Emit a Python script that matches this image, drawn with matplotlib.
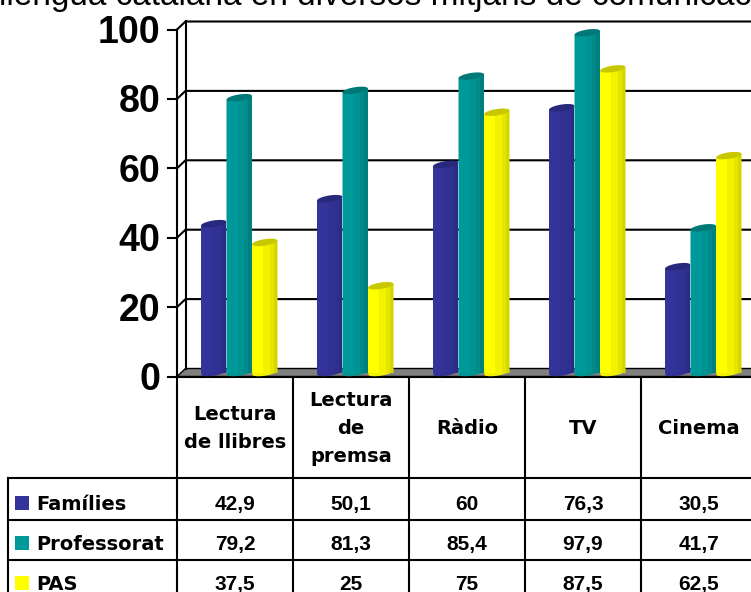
import numpy as np
import matplotlib
matplotlib.use('Agg')
import matplotlib.pyplot as plt
import matplotlib.transforms as mtransforms
from matplotlib.patches import Rectangle, Polygon

# ---------------- data ----------------
categories = ['Lectura\nde llibres', 'Lectura\nde\npremsa', 'Ràdio', 'TV', 'Cinema']
series_names = ['Famílies', 'Professorat', 'PAS']
families_vals = [42.9, 50.1, 60, 76.3, 30.5]
professorat_vals = [79.2, 81.3, 85.4, 97.9, 41.7]
pas_vals = [37.5, 25, 75, 87.5, 62.5]
y_ticks = [0, 20, 40, 60, 80, 100]
title_text = 'llengua catalana en diversos mitjans de comunicació'

series_values = [families_vals, professorat_vals, pas_vals]

# ---------------- styles ----------------
shades = [
    dict(strips=['#333399', '#313194', '#2F2F8D', '#2A2A82'], cap='#28287C'),
    dict(strips=['#009999', '#009393', '#008A8A', '#007F7F'], cap='#007878'),
    dict(strips=['#FFFF00', '#F2F200', '#E5E500', '#D6D600'], cap='#C8C800'),
]
legend_colors = ['#333399', '#009999', '#FFFF00']

plt.rcParams['font.family'] = ['Liberation Sans', 'DejaVu Sans']
WORD_FONT = ['DejaVu Sans']

W, H = 751, 592
DPI = 100
fig = plt.figure(figsize=(W / DPI, H / DPI), dpi=DPI)
fig.patch.set_facecolor('white')


def fig_rect(left, top, right, bottom):
    return [left / W, 1 - bottom / H, (right - left) / W, (bottom - top) / H]


# overlay axes in pixel coordinates (table, title)
tax = fig.add_axes([0, 0, 1, 1])
tax.set_xlim(0, W)
tax.set_ylim(H, 0)
tax.axis('off')

# chart axes (front plane)
COLW = 116
AX_L, AX_T, AX_B = 177, 29.5, 376.5
ncat = len(categories)
ax = fig.add_axes(fig_rect(AX_L, AX_T, AX_L + ncat * COLW, AX_B))
ax.set_xlim(-0.5, ncat - 0.5)
ax.set_ylim(0, 100)
ax.axis('off')

ux = COLW                      # px per category
uy = (AX_B - AX_T) / 100.0     # px per unit
DX, DY = 8.5, 8.0              # depth offset in px
ox, oy = DX / ux, DY / uy
x0 = -0.5
xr = ncat - 0.5 + 0.3
LW = 1.5

# floor
floor = Polygon([(x0, 0), (xr, 0), (xr + ox, oy), (x0 + ox, oy)], closed=True,
                fc='#808080', ec='black', lw=1.0, clip_on=False, zorder=1)
ax.add_patch(floor)
ax.plot([x0, xr], [0, 0], color='black', lw=LW, clip_on=False, zorder=2)

# back wall + gridlines
ax.plot([x0 + ox, x0 + ox], [oy, 100 + oy], color='black', lw=LW, clip_on=False, zorder=2)
for t in y_ticks[1:]:
    ax.plot([x0, x0 + ox, xr + ox], [t, t + oy, t + oy], color='black', lw=LW,
            clip_on=False, zorder=2, solid_joinstyle='miter')

# front axis, ticks, labels
ax.plot([x0, x0], [0, 100], color='black', lw=LW, clip_on=False, zorder=2)
lab_tr = ax.transData + mtransforms.ScaledTranslation(-17 / DPI, -13.5 / DPI, fig.dpi_scale_trans)
for t in y_ticks:
    ax.plot([x0 - 9 / ux, x0], [t, t], color='black', lw=LW, clip_on=False, zorder=2)
    ax.text(x0, t, str(t), transform=lab_tr, ha='right', va='baseline',
            fontsize=27, fontweight='bold', color='black')

# cylinders
mid = ax.transData + mtransforms.ScaledTranslation(DX / 2 / DPI, DY / 2 / DPI, fig.dpi_scale_trans)
bw = 0.22
hw_px = bw * ux / 2
PHI = np.deg2rad(9)
B_PX = 3.2
A_PX = hw_px / np.cos(PHI) * 0.99
RISE = A_PX * np.sin(PHI)
tt = np.linspace(0, 2 * np.pi, 60)
ell_dx = (A_PX * np.cos(tt) * np.cos(PHI) - B_PX * np.sin(tt) * np.sin(PHI)) / ux
ell_dy = (A_PX * np.cos(tt) * np.sin(PHI) + B_PX * np.sin(tt) * np.cos(PHI)) / uy


def ellipse_at(x, y, color, z):
    p = Polygon(np.column_stack([x + ell_dx, y + ell_dy]), closed=True, fc=color,
                ec='none', transform=mid, zorder=z, clip_on=False)
    ax.add_patch(p)


strip_edges = [0, 0.45, 0.7, 0.86, 1.0]
for i, (vals, sh) in enumerate(zip(series_values, shades)):
    z = 3 + i * 0.1
    xc = [k + (i - 1) * bw for k in range(ncat)]
    for x in xc:
        ellipse_at(x, 0, sh['strips'][1], z)
    for s in range(4):
        left = [x - bw / 2 + strip_edges[s] * bw for x in xc]
        bars = ax.bar(left, [v + RISE / uy for v in vals],
                      width=(strip_edges[s + 1] - strip_edges[s]) * bw, align='edge',
                      color=sh['strips'][s], transform=mid, zorder=z, linewidth=0)
        for rect, x, v in zip(bars.patches, xc, vals):
            xl, xrr = x - bw / 2, x + bw / 2
            clip = Polygon([(xl, -5), (xrr, -5), (xrr, v + RISE / uy), (xl, v - RISE / uy)],
                           closed=True, transform=mid)
            rect.set_clip_path(clip)
            rect.set_clip_box(None)
    for x, v in zip(xc, vals):
        ellipse_at(x, v, sh['cap'], z + 0.05)

# ---------------- title (cut off at top) ----------------
tax.text(-1, 5, title_text, fontsize=24, ha='left', va='baseline', color='black')

# ---------------- data table ----------------
bt = mtransforms.blended_transform_factory(ax.transData, tax.transData)
HEAD_BOT = 478
row_tops = [478, 520, 560]
row_base = [510, 550, 590]
for k in range(ncat + 1):
    tax.plot([k - 0.5, k - 0.5], [AX_B, H + 5], transform=bt, color='black', lw=LW,
             clip_on=False)
for y in row_tops:
    tax.plot([8, W + 10], [y, y], color='black', lw=LW, clip_on=False)
tax.plot([8, 8], [row_tops[0], H + 5], color='black', lw=LW, clip_on=False)

for k, cat in enumerate(categories):
    tax.text(k, (AX_B + HEAD_BOT) / 2 + 1, cat, transform=bt, ha='center', va='center',
             fontsize=14, fontweight='bold', linespacing=1.6, multialignment='center',
             family=WORD_FONT)


def fmt(v):
    return f'{v:g}'.replace('.', ',')


for r, (name, vals, col) in enumerate(zip(series_names, series_values, legend_colors)):
    base = row_base[r]
    tax.add_patch(Rectangle((15, base - 14), 14, 14, fc=col, ec='none'))
    tax.text(36, base, name, ha='left', va='baseline', fontsize=14, fontweight='bold',
             family=WORD_FONT)
    for k, v in enumerate(vals):
        tax.text(k, base, fmt(v), transform=bt, ha='center', va='baseline',
                 fontsize=15, fontweight='bold')

fig.savefig('out.png', dpi=DPI, facecolor='white')
